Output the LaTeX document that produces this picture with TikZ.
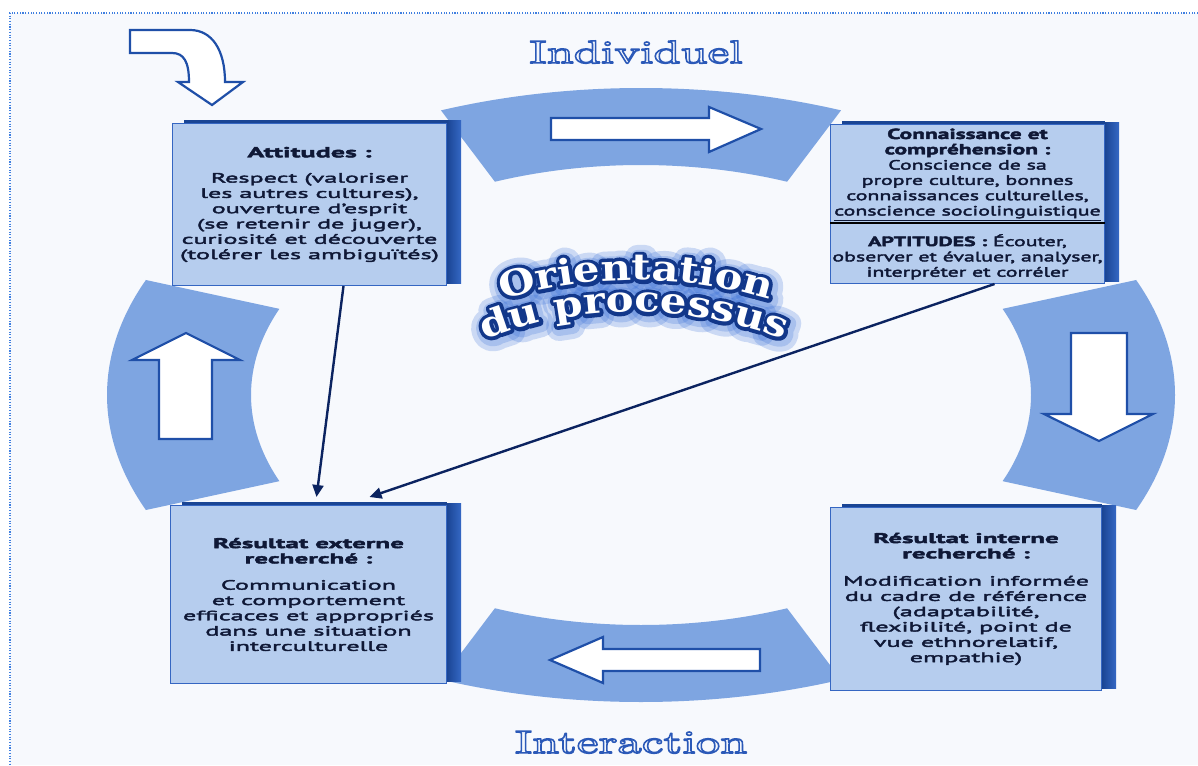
\documentclass[tikz,border=0pt]{standalone}
\usepackage{fontspec}
\usetikzlibrary{arrows.meta,calc,decorations.text}
\newfontfamily\boxfont{PT Sans}[FakeStretch=1.94, FakeBold=3]
\newfontfamily\boxfontc{PT Sans}[FakeStretch=1.62, FakeBold=3]
\newfontfamily\titlefont{lmroman10-regular.otf}[FakeStretch=1.52, FakeBold=5]
\newfontfamily\orfontW{DejaVu Serif}[FakeStretch=1.16]
\newfontfamily\orfontO{DejaVu Serif}[FakeStretch=1.16, FakeBold=20]
\newfontfamily\orfontG{DejaVu Serif}[FakeStretch=1.16, FakeBold=70]
\newfontfamily\orfontGG{DejaVu Serif}[FakeStretch=1.16, FakeBold=42]
\definecolor{bgc}{HTML}{F7F9FD}
\definecolor{bordc}{HTML}{3F7FE0}
\definecolor{arcc}{HTML}{7EA5E1}
\definecolor{boxc}{HTML}{B6CDEE}
\definecolor{boxedge}{HTML}{3566C2}
\definecolor{shadowa}{HTML}{1A4594}
\definecolor{shadowb}{HTML}{3568C4}
\definecolor{arrowc}{HTML}{1F4FA8}
\definecolor{conc}{HTML}{0B2360}
\definecolor{textc}{HTML}{0F1836}
\definecolor{titlefill}{HTML}{F4F7FD}
\definecolor{glowc}{HTML}{2F68D6}
\definecolor{orline}{HTML}{12378A}
\newcommand\titlestroke{\special{pdf:code 0.17 0.35 0.72 RG 1 j}}
\newcommand\roundj{\special{pdf:code 1 j 1 J}}
\newcommand\orsize{\bfseries\fontsize{36}{36}\selectfont}
\begin{document}
\begin{tikzpicture}[x=1pt,y=1pt,
  box/.style={fill=boxc, draw=boxedge, line width=1pt, inner sep=0pt, anchor=north west,
    align=center, text=textc, font=\boxfont\fontsize{13.5}{15.3}\selectfont},
  harrow/.style={fill=white, draw=arrowc, line width=2.2pt, line join=miter},
  connector/.style={draw=conc, line width=2.4pt, -{Triangle[length=12pt,width=11pt]}},
  ringseg/.style={fill=arcc},
  titletext/.style={anchor=base, inner sep=0pt, font=\titlefont\fontsize{32}{32}\selectfont},
  ortext/.style 2 args={decorate, decoration={text along path, text={|#1|#2}, text align=center}}
]
\useasboundingbox (0,0) rectangle (1198,-765);
\fill[white] (0,0) rectangle (1198,-765);
\fill[bgc] (10,-13) rectangle (1198,-765);
\draw[bordc, line width=1.1pt, dash pattern=on 1.1pt off 1.6pt] (1198,-13) -- (10,-13) -- (10,-765);

% ring segments
\coordinate (rc) at (641,-395);
\foreach \s/\e in {68/112,158/202,248/292,-22/22} {
  \fill[ringseg] ($(rc)+(\s:534 and 307)$) arc[start angle=\s,end angle=\e,x radius=534,y radius=307]
    -- ($(rc)+(\e:390 and 230)$) arc[start angle=\e,end angle=\s,x radius=390,y radius=230] -- cycle;
}

% hollow arrows
\draw[harrow] (551,-118) -- (709,-118) -- (709,-107) -- (761,-129) -- (709,-152) -- (709,-140) -- (551,-140) -- cycle;
\draw[harrow] (760,-649) -- (603,-649) -- (603,-637) -- (550,-660) -- (603,-683) -- (603,-671) -- (760,-671) -- cycle;
\draw[harrow] (159,-439) -- (159,-360) -- (132,-360) -- (186,-333) -- (240,-360) -- (212,-360) -- (212,-439) -- cycle;
\draw[harrow] (1071,-333) -- (1127,-333) -- (1127,-414) -- (1153,-414) -- (1099,-441) -- (1044,-414) -- (1071,-414) -- cycle;
\draw[harrow] (130,-30) -- (190,-30) .. controls (212,-30) and (225,-50) .. (225,-82) -- (243,-82) -- (212,-105)
  -- (178,-82) -- (189,-82) .. controls (189,-62) and (184,-53) .. (172,-53) -- (130,-53) -- cycle;

% boxes
\node[box, minimum width=274, minimum height=162] (att) at (172,-123) {%
  {\fontsize{14.5}{15.3}\selectfont\bfseries Attitudes :}\\[10pt]
  Respect (valoriser\\ les autres cultures),\\ ouverture d’esprit\\ (se retenir de juger),\\
  curiosité et découverte\\ (tolérer les ambiguïtés)};
\node[box, minimum width=274, minimum height=159, font=\boxfontc\fontsize{13.5}{15.3}\selectfont] (kno) at (830,-124) {%
  {\fontsize{14.5}{15.3}\selectfont\bfseries Connaissance et}\\ {\fontsize{14.5}{15.3}\selectfont\bfseries compréhension :}\\ Conscience de sa\\ propre culture, bonnes\\
  connaissances culturelles,\\ \underline{conscience sociolinguistique}\\[13pt]
  \textbf{APTITUDES :} Écouter,\\ observer et évaluer, analyser,\\ interpréter et corréler};
\node[box, minimum width=276, minimum height=178] (ext) at (170,-505) {%
  {\fontsize{14}{15.3}\selectfont\bfseries Résultat externe}\\ {\fontsize{14}{15.3}\selectfont\bfseries recherché :}\\[11pt]
  Communication\\ et comportement\\ efficaces et appropriés\\ dans une situation\\ interculturelle};
\node[box, minimum width=271, minimum height=183] (int) at (830,-507) {%
  {\fontsize{14}{15.3}\selectfont\bfseries Résultat interne}\\ {\fontsize{14}{15.3}\selectfont\bfseries recherché :}\\[12pt]
  Modification informée\\ du cadre de référence\\ (adaptabilité,\\ flexibilité, point de\\
  vue ethnorelatif,\\ empathie)};

% shadows
\foreach \b in {att,kno,ext,int} {
  \shade[left color=shadowa, right color=shadowb] ($(\b.north east)+(0,2)$) rectangle ($(\b.south east)+(14,3)$);
  \fill[shadowa] ($(\b.north west)+(12,3)$) rectangle ($(\b.north east)+(0,0)$);
}
\draw[black, line width=1.8pt] ($(kno.north west)+(0,-99)$) -- ($(kno.north east)+(0,-99)$);

% connectors
\draw[connector] ($(att.south)+(34,0)$) -- ($(ext.north)+(8,8)$);
\draw[connector] ($(kno.south)+(27,0)$) -- ($(ext.north)+(61,8)$);

% titles
\node[titletext] (indiv) at (636,-63) {\color{titlefill}\titlestroke Individuel};
\node[titletext] (inter) at (631,-753) {\color{titlefill}\titlestroke Interaction};

% curved title
\coordinate (oc1) at (636,-740);
\coordinate (oc2) at (634,-732);
\begin{scope}[opacity=.22]
  \path[ortext={\orfontG\orsize\color{glowc}\roundj}{Orientation}] ([shift={(1.5,-2)}]oc1) ++(120:460) arc[start angle=120,end angle=60,radius=460];
  \path[ortext={\orfontG\orsize\color{glowc}\roundj}{du processus}] ([shift={(1.5,-2)}]oc2) ++(125:420) arc[start angle=125,end angle=55,radius=420];
  \path[ortext={\orfontGG\orsize\color{glowc}\roundj}{Orientation}] ([shift={(1.5,-2)}]oc1) ++(120:460) arc[start angle=120,end angle=60,radius=460];
  \path[ortext={\orfontGG\orsize\color{glowc}\roundj}{du processus}] ([shift={(1.5,-2)}]oc2) ++(125:420) arc[start angle=125,end angle=55,radius=420];
\end{scope}
\path[ortext={\orfontO\orsize\color{orline}\roundj}{Orientation}] (oc1) ++(120:460) arc[start angle=120,end angle=60,radius=460];
\path[ortext={\orfontO\orsize\color{orline}\roundj}{du processus}] (oc2) ++(125:420) arc[start angle=125,end angle=55,radius=420];
\path[ortext={\orfontW\orsize\color{white}}{Orientation}] (oc1) ++(120:460) arc[start angle=120,end angle=60,radius=460];
\path[ortext={\orfontW\orsize\color{white}}{du processus}] (oc2) ++(125:420) arc[start angle=125,end angle=55,radius=420];
\end{tikzpicture}
\end{document}
